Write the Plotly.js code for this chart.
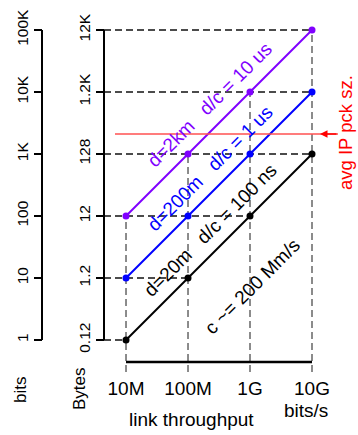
<!DOCTYPE html>
<html>
<head>
<meta charset="utf-8">
<script src="https://cdn.plot.ly/plotly-3.0.1.min.js"></script>
<style>html,body{margin:0;padding:0;background:#fff;}#chart{width:358px;height:435px;}</style>
</head>
<body>
<div id="chart"></div>
<script>
// ---- data ----
const throughput = [1e7, 1e8, 1e9, 1e10];               // bits/s
const throughputLabels = ['10M', '100M', '1G', '10G'];
const bits20m  = [1, 10, 100, 1000];                    // d=20m,  d/c = 100 ns
const bits200m = [10, 100, 1000, 10000];                // d=200m, d/c = 1 us
const bits2km  = [100, 1000, 10000, 100000];            // d=2km,  d/c = 10 us
const yTicks = [1, 10, 100, 1000, 10000, 100000];
const bitsLabels  = ['1', '10', '100', '1K', '10K', '100K'];
const bytesLabels = ['0.12', '1.2', '12', '128', '1.2K', '12K'];
const avgPktBits = 2100;                                // avg IP packet size
const seriesNames = ['d=20m', 'd=200m', 'd=2km'];

// ---- layout constants ----
const W = 358, H = 435, T = 20, B = 63;
const PH = H - T - B;
const XR = [6.645, 10.742];
const YR = [-0.516, 5.161];
const FONT = 'Liberation Sans, Arial, sans-serif';
const NARROW = 'Liberation Sans Narrow, Arial Narrow, Liberation Sans, Arial, sans-serif';
const px2paperX = px => px / W;
const px2paperY = py => (H - B - py) / PH;
const px2logX = px => XR[0] + (px - 104) / 62;

const series = [bits20m, bits200m, bits2km];
const colors = ['#000000', '#0000ff', '#8000ff'];

const traces = series.map((s, i) => ({
  x: throughput, y: s, type: 'scatter', mode: 'lines+markers',
  name: seriesNames[i], xaxis: 'x', yaxis: 'y',
  line: {color: colors[i], width: 2},
  marker: {color: colors[i], size: 7},
  cliponaxis: false, hoverinfo: 'skip'
}));
// invisible trace on bits axis to activate it
traces.push({x: [throughput[0]], y: [1], type: 'scatter', mode: 'markers',
  marker: {opacity: 0}, xaxis: 'x', yaxis: 'y2', hoverinfo: 'skip', showlegend: false});

// dashed guide lines derived from the data
const shapes = [];
const levels = {};
series.forEach(s => s.forEach((v, j) => {
  levels[v] = Math.max(levels[v] || 0, throughput[j]);
}));
Object.keys(levels).forEach(k => {
  shapes.push({type: 'line', xref: 'x', yref: 'y', x0: Math.pow(10, XR[0]), x1: levels[k],
    y0: +k, y1: +k, line: {color: '#111', width: 1.3, dash: '7px,4px'}, layer: 'below'});
});
throughput.forEach((x, j) => {
  const top = Math.max(...series.map(s => s[j]));
  shapes.push({type: 'line', xref: 'x', yref: 'y', x0: x, x1: x,
    y0: Math.pow(10, YR[0]), y1: top, line: {color: '#666', width: 1.5, dash: '7px,4px'}, layer: 'below'});
});
// axis lines
shapes.push({type: 'line', xref: 'paper', yref: 'y', x0: px2paperX(104), x1: px2paperX(104),
  y0: yTicks[0], y1: yTicks[yTicks.length - 1], line: {color: '#000', width: 2}});
shapes.push({type: 'line', xref: 'paper', yref: 'y', x0: px2paperX(42), x1: px2paperX(42),
  y0: yTicks[0], y1: yTicks[yTicks.length - 1], line: {color: '#000', width: 2}});
shapes.push({type: 'line', xref: 'x', yref: 'paper', x0: throughput[0], x1: throughput[throughput.length - 1],
  y0: px2paperY(362), y1: px2paperY(362), line: {color: '#000', width: 2.5}});
// avg packet size line
shapes.push({type: 'line', xref: 'x', yref: 'y', x0: Math.pow(10, px2logX(115)), x1: Math.pow(10, px2logX(338)),
  y0: avgPktBits, y1: avgPktBits, line: {color: '#ff5050', width: 1.3}});

const tf = {family: FONT, size: 19};
const C = {xanchor: 'center', yanchor: 'middle', showarrow: false};
const annotations = [
  Object.assign({xref: 'x', yref: 'y', x: 8.35, y: 3.80, text: 'd=2km\u00a0\u00a0\u00a0d/c = 10 us', textangle: -45,
    font: Object.assign({}, tf, {color: colors[2]})}, C),
  Object.assign({xref: 'x', yref: 'y', x: 8.35, y: 2.77, text: 'd=200m\u00a0\u00a0\u00a0d/c = 1 us', textangle: -45,
    font: Object.assign({}, tf, {color: colors[1]})}, C),
  Object.assign({xref: 'x', yref: 'y', x: 8.37, y: 1.78, text: 'd=20m\u00a0\u00a0\u00a0d/c = 100 ns', textangle: -45,
    font: Object.assign({}, tf, {color: colors[0]})}, C),
  Object.assign({xref: 'x', yref: 'y', x: 9.032, y: 0.871, text: 'c ~= 200 Mm/s', textangle: -45,
    font: Object.assign({}, tf, {color: '#000'})}, C),
  {xref: 'x', yref: 'y', x: px2logX(320), y: Math.log10(avgPktBits), ax: 18, ay: 0, text: '',
    showarrow: true, arrowhead: 2, arrowsize: 1, arrowwidth: 1.5, arrowcolor: '#ff0000'},
  Object.assign({xref: 'paper', yref: 'paper', x: px2paperX(345), y: px2paperY(133), text: 'avg IP pck sz.', textangle: -90,
    font: {family: FONT, size: 18.5, color: '#ff0000'}}, C),
  Object.assign({xref: 'paper', yref: 'paper', x: px2paperX(21), y: px2paperY(390), text: 'bits', textangle: -90,
    font: {family: NARROW, size: 17, color: '#000'}}, C),
  Object.assign({xref: 'paper', yref: 'paper', x: px2paperX(79), y: px2paperY(389), text: 'Bytes', textangle: -90,
    font: {family: NARROW, size: 17, color: '#000'}}, C),
  Object.assign({xref: 'paper', yref: 'paper', x: px2paperX(306), y: px2paperY(410), text: 'bits/s',
    font: Object.assign({}, tf, {color: '#000'})}, C),
  Object.assign({xref: 'paper', yref: 'paper', x: px2paperX(191), y: px2paperY(419), text: 'link throughput',
    font: Object.assign({}, tf, {color: '#000'})}, C)
];

const layout = {
  width: W, height: H,
  margin: {l: 0, r: 0, t: T, b: B, pad: 0},
  paper_bgcolor: '#fff', plot_bgcolor: 'rgba(0,0,0,0)',
  showlegend: false,
  font: {family: FONT, color: '#000'},
  xaxis: {type: 'log', range: XR, domain: [104 / W, 1], anchor: 'y',
    showgrid: false, zeroline: false, showline: false, ticks: '', ticklabelstandoff: 3,
    tickvals: throughput, ticktext: throughputLabels, tickfont: {family: FONT, size: 19, color: '#000'}},
  yaxis: {type: 'log', range: YR, anchor: 'free', position: 104 / W, side: 'left',
    showgrid: false, zeroline: false, showline: false, ticks: 'outside', ticklen: 8, tickwidth: 1.5, tickcolor: '#000',
    tickvals: yTicks, ticktext: bytesLabels, tickangle: -90,
    tickfont: {family: NARROW, size: 15.5, color: '#000'}},
  yaxis2: {type: 'log', range: YR, overlaying: 'y', anchor: 'free', position: 42 / W, side: 'left',
    showgrid: false, zeroline: false, showline: false, ticks: 'outside', ticklen: 8, tickwidth: 1.5, tickcolor: '#000',
    tickvals: yTicks, ticktext: bitsLabels, tickangle: -90,
    tickfont: {family: NARROW, size: 15.5, color: '#000'}},
  shapes: shapes,
  annotations: annotations
};

Plotly.newPlot('chart', traces, layout, {staticPlot: true, displayModeBar: false});
</script>
</body>
</html>
